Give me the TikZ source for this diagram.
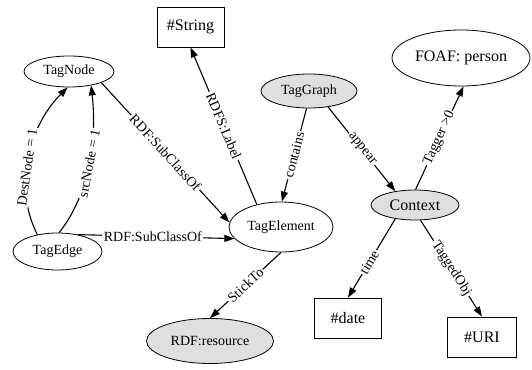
\documentclass[tikz,border=0pt]{standalone}
\usepackage{fontspec}
\setmainfont{Liberation Serif}
\usetikzlibrary{shapes.geometric,arrows.meta}
\begin{document}
\begin{tikzpicture}[x=1pt,y=-1pt,
  ell/.style={ellipse,draw,line width=0.8pt,inner sep=0pt,font=\fontsize{14}{16}\selectfont},
  grayell/.style={ell,fill=gray!25},
  boxnode/.style={rectangle,draw,line width=0.8pt,inner sep=0pt,font=\fontsize{16}{18}\selectfont},
  arr/.style={line width=1.1pt,-{Triangle[length=10pt,width=7pt]}},
  lbl/.style={fill=white,inner sep=1.5pt,font=\fontsize{14}{16}\selectfont}]
\useasboundingbox (0,0) rectangle (532,369);

\node[boxnode,minimum width=67pt,minimum height=40pt] (string) at (190.5,27) {\#String};
\node[ell,minimum width=90pt,minimum height=31pt] (tagnode) at (69,71.5) {TagNode};
\node[ell,minimum width=89pt,minimum height=37pt] (tagedge) at (57.5,251.5) {TagEdge};
\node[ell,minimum width=104pt,minimum height=50pt] (tagelement) at (281,227) {TagElement};
\node[grayell,minimum width=96pt,minimum height=34pt] (taggraph) at (309,91) {TagGraph};
\node[ell,minimum width=138pt,minimum height=56pt,font=\fontsize{16}{18}\selectfont] (foaf) at (461,58) {FOAF: person};
\node[grayell,minimum width=88pt,minimum height=30pt,font=\fontsize{16}{18}\selectfont] (context) at (415,205) {Context};
\node[boxnode,minimum width=67pt,minimum height=40pt] (date) at (348,318) {\#date};
\node[boxnode,minimum width=69pt,minimum height=40pt] (uri) at (482,337) {\#URI};
\node[grayell,minimum width=127pt,minimum height=45pt] (resource) at (210,341) {RDF:resource};

\draw[arr] (tagedge.140) .. controls (12,185) and (30,125) .. node[lbl,sloped,pos=0.43] {DestNode = 1} (tagnode.-95);
\draw[arr] (tagedge.85) .. controls (85,200) and (98,150) .. node[lbl,sloped,pos=0.55] {srcNode = 1} (tagnode.-32);
\draw[arr] (tagnode.-19) -- node[lbl,sloped] {RDF:SubClassOf} (tagelement.175);
\draw[arr] (tagedge.40) -- node[lbl,pos=0.48] {RDF:SubClassOf} (tagelement.194);
\draw[arr] (tagelement.137) -- node[lbl,sloped] {RDFS:Label} (string.south);
\draw[arr] (taggraph.-98) -- node[lbl,sloped] {contains} (tagelement.88);
\draw[arr] (taggraph.-40) -- node[lbl,sloped] {appear} (context.145);
\draw[arr] (context.88) -- node[lbl,sloped] {Tagger >0} (foaf.-85);
\draw[arr] (context.215) -- node[lbl,sloped,pos=0.55] {time} (date.north);
\draw[arr] (context.-70) -- node[lbl,sloped] {TaggedObj} (uri.north);
\draw[arr] (tagelement.-90) -- node[lbl,sloped] {StickTo} (resource.north);
\end{tikzpicture}
\end{document}
